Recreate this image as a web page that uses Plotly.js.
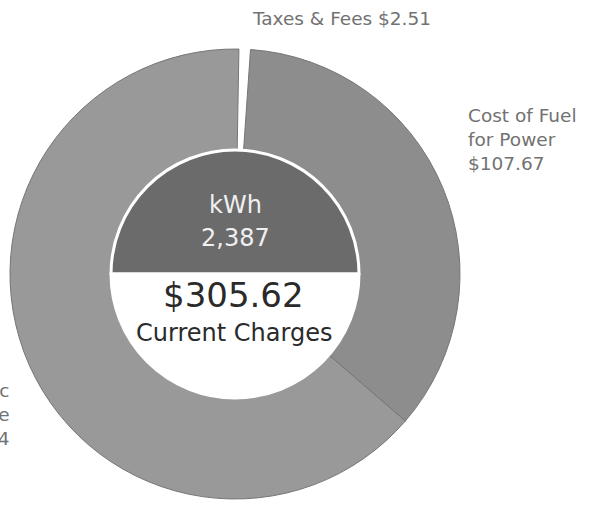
<!DOCTYPE html>
<html>
<head>
<meta charset="utf-8">
<script src="https://cdn.plot.ly/plotly-3.0.1.min.js"></script>
<style>html,body{margin:0;padding:0;background:#fff;}#chart{width:595px;height:508px;}</style>
</head>
<body>
<div id="chart"></div>
<script>
// Data
const categories = ["Taxes & Fees", "Cost of Fuel for Power", "Electric Service"];
const values = [2.51, 107.67, 195.44];
const labelTexts = ["Taxes & Fees $2.51", "Cost of Fuel<br>for Power<br>$107.67", "Electric<br>Service<br>$195.44"];
const totalText = "$305.62";
const totalCaption = "Current Charges";
const kwhLabel = "kWh";
const kwhValue = "2,387";
const centerHalves = ["usage", "charges"];
const centerValues = [1, 1];

const W = 595, H = 508;
const cx = 235, cy = 274, R = 225, r = 124;

const outer = {
  type: "pie",
  labels: categories,
  values: values,
  sort: false,
  direction: "clockwise",
  rotation: 1,
  hole: r / R,
  textinfo: "none",
  hoverinfo: "none",
  marker: {
    colors: ["#ffffff", "#8d8d8d", "#999999"],
    line: {color: ["#ffffff", "#767676", "#767676"], width: [0, 1, 1]}
  },
  domain: {x: [(cx - R) / W, (cx + R) / W], y: [(H - cy - R) / H, (H - cy + R) / H]},
  showlegend: false
};

const inner = {
  type: "pie",
  labels: centerHalves,
  values: centerValues,
  sort: false,
  direction: "clockwise",
  rotation: -90,
  textinfo: "none",
  hoverinfo: "none",
  marker: {colors: ["#6b6b6b", "#ffffff"], line: {color: "#ffffff", width: 3}},
  domain: {x: [(cx - r) / W, (cx + r) / W], y: [(H - cy - r) / H, (H - cy + r) / H]},
  showlegend: false
};

const FAM = "'DejaVu Sans', Verdana, sans-serif";
const lblFont = {family: FAM, size: 18.5, color: "#727272"};
const px = (x) => x / W, py = (y) => 1 - y / H;

const layout = {
  width: W, height: H,
  margin: {l: 0, r: 0, t: 0, b: 0},
  paper_bgcolor: "#ffffff",
  plot_bgcolor: "#ffffff",
  showlegend: false,
  annotations: [
    {text: labelTexts[0], xref: "paper", yref: "paper", x: px(250), y: py(18), xanchor: "left", yanchor: "middle", showarrow: false, font: lblFont},
    {text: labelTexts[1], xref: "paper", yref: "paper", x: px(466), y: py(140), xanchor: "left", yanchor: "middle", align: "left", showarrow: false, font: lblFont},
    {text: labelTexts[2], xref: "paper", yref: "paper", x: px(12), y: py(414), xanchor: "right", yanchor: "middle", align: "right", showarrow: false, font: lblFont},
    {text: kwhLabel, xref: "paper", yref: "paper", x: px(235), y: py(205), xanchor: "center", yanchor: "middle", showarrow: false, font: {family: FAM, size: 24, color: "#f0f0f0"}},
    {text: kwhValue, xref: "paper", yref: "paper", x: px(235), y: py(238), xanchor: "center", yanchor: "middle", showarrow: false, font: {family: FAM, size: 24, color: "#f0f0f0"}},
    {text: totalText, xref: "paper", yref: "paper", x: px(233), y: py(295), xanchor: "center", yanchor: "middle", showarrow: false, font: {family: FAM, size: 34, color: "#2a2a2a"}},
    {text: totalCaption, xref: "paper", yref: "paper", x: px(234), y: py(333), xanchor: "center", yanchor: "middle", showarrow: false, font: {family: FAM, size: 24, color: "#2a2a2a"}}
  ]
};

Plotly.newPlot("chart", [outer, inner], layout, {staticPlot: true, displayModeBar: false});
</script>
</body>
</html>
